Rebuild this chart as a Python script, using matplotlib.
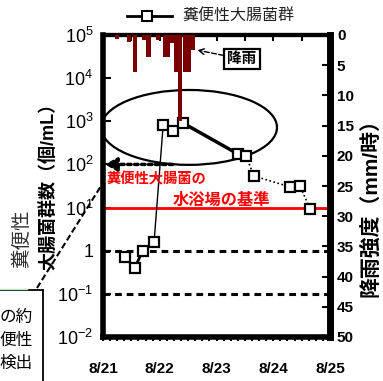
import numpy as np
import matplotlib.pyplot as plt
from matplotlib.patches import Ellipse, Rectangle
from matplotlib.lines import Line2D
from matplotlib.ticker import NullLocator, FixedLocator

plt.rcParams['font.family'] = ['Liberation Sans', 'Noto Sans CJK JP']
plt.rcParams['mathtext.fontset'] = 'custom'
plt.rcParams['mathtext.rm'] = 'Liberation Sans'

# 糞便性大腸菌群 (個/mL)、x は8月の日(小数部は時刻)
coli_day = [21.39, 21.56, 21.70, 21.90, 22.06, 22.23, 22.41,
            23.38, 23.52, 23.66, 24.30, 24.47, 24.65]
coli_val = [0.71, 0.40, 1.0, 1.6, 810, 590, 910,
            174, 157, 54, 30, 32, 9.3]

# 降雨強度 (mm/時)
rain_day = [21.25, 21.46, 21.56, 21.72, 21.80, 21.97, 22.09,
            22.15, 22.22, 22.29, 22.36, 22.44, 22.51, 22.58]
rain_mm = [0.6, 1.1, 6.1, 0.8, 3.6, 0.8, 3.6,
           3.6, 1.3, 6.1, 14.2, 6.1, 6.1, 2.5]

date_ticks = [21, 22, 23, 24, 25]
date_labels = ['8/21', '8/22', '8/23', '8/24', '8/25']
log_ticks = [1e-2, 1e-1, 1, 1e1, 1e2, 1e3, 1e4, 1e5]
log_labels = ['10$^{-2}$', '10$^{-1}$', '1', '10$^{1}$',
              '10$^{2}$', '10$^{3}$', '10$^{4}$', '10$^{5}$']
rain_ticks = list(range(0, 55, 5))
standard = 10  # 水浴場の基準

W, H = 383, 381
fig = plt.figure(figsize=(W / 100, H / 100), dpi=100)


def fx(px):
    return px / W


def fy(py):
    return 1 - py / H


ax = fig.add_axes([fx(103), fy(337), 227 / W, 302 / H])
ax.set_xlim(21, 25)
ax.set_yscale('log')
ax.set_ylim(1e-2, 1e5)

# 基準線と補助線
ax.axhline(standard, color='red', lw=2)
for v in (1, 0.1):
    ax.axhline(v, color='black', lw=2.2, ls=(0, (2.2, 1.6)))

# 大腸菌群の推移
ax.plot(coli_day[0:4], coli_val[0:4], color='black', lw=2)
ax.plot(coli_day[3:7], coli_val[3:7], color='black', lw=1)
ax.plot(coli_day[6:8], coli_val[6:8], color='black', lw=2.5)
ax.plot(coli_day[7:], coli_val[7:], color='black', lw=1.2, ls=(0, (1, 1.5)))
ax.plot(coli_day, coli_val, ls='none', marker='s', ms=7, mfc='white',
        mec='black', mew=1.6, zorder=5)

ax.add_patch(Ellipse((0.379, 0.694), 0.775, 0.248, transform=ax.transAxes,
                     fill=False, ec='black', lw=1.6))

ax.annotate('', xy=(21.035, 100), xytext=(22.23, 100),
            arrowprops=dict(arrowstyle='-|>,head_length=0.7,head_width=0.4',
                            color='black', lw=2.5, ls=(0, (1, 1)),
                            shrinkA=0, shrinkB=0))
ax.text(21.07, 46, '糞便性大腸菌の', color='red', fontsize=10.3,
        fontweight='bold', ha='left', va='center')
ax.text(22.22, 15, '水浴場の基準', color='red', fontsize=11.7,
        fontweight='bold', ha='left', va='center')

ax.set_yticks(log_ticks, log_labels)
ax.yaxis.set_minor_locator(NullLocator())
ax.tick_params(axis='y', direction='in', length=6, width=1.5,
               labelsize=13, pad=7)
ax.set_xticks(date_ticks, date_labels, fontweight='bold')
ax.xaxis.set_minor_locator(FixedLocator(np.arange(21, 25.01, 0.125)))
ax.tick_params(axis='x', which='both', direction='out', length=3,
               width=1.5, labelsize=11, pad=15)
ax.spines['left'].set_linewidth(4)
ax.spines['bottom'].set_linewidth(4)
ax.spines['top'].set_linewidth(3)
ax.spines['right'].set_visible(False)

top = ax.secondary_xaxis('top')
top.set_xticks(np.arange(21.5, 25, 0.5), labels=[])
top.tick_params(direction='in', length=4, width=1.5)
top.spines['top'].set_linewidth(3)

# 降雨強度 (右軸、上から下向き)
ax2 = ax.twinx()
ax2.set_ylim(50, 0)
ax2.bar(rain_day, rain_mm, width=0.075, color='#7a0000')
ax2.set_yticks(rain_ticks, [str(t) for t in rain_ticks], fontweight='bold')
ax2.tick_params(axis='y', direction='in', length=6, width=1.5,
                labelsize=11, pad=5)
for s in ('left', 'top', 'bottom'):
    ax2.spines[s].set_visible(False)
ax2.spines['right'].set_linewidth(5)
ax2.annotate('降雨', xy=(22.66, 2.5), xytext=(23.45, 4.0),
             fontsize=10.5, fontweight='bold', ha='center', va='center',
             bbox=dict(boxstyle='square,pad=0.2', fc='white', ec='black', lw=1.6),
             arrowprops=dict(arrowstyle='->', ls='--', lw=1, color='black',
                             shrinkA=0, shrinkB=0))

# 凡例
fig.add_artist(Line2D([fx(127), fx(146.5), fx(172)], [fy(16)] * 3, color='black',
                      lw=2, marker='s', markevery=[1], ms=7, mfc='white',
                      mec='black', mew=1.5))
fig.text(fx(182), fy(16), '糞便性大腸菌群', fontsize=11.5, color='#222222',
         ha='left', va='center')

# 軸ラベル
fig.text(fx(49), fy(182), '大腸菌群数（個/mL）', rotation=90, fontsize=13,
         fontweight='bold', ha='center', va='center')
fig.text(fx(370), fy(203), '降雨強度（mm/時）', rotation=90, fontsize=15,
         fontweight='bold', ha='center', va='center')

# 左側の注記
fig.text(fx(22), fy(239), '糞便性', rotation=90, fontsize=14, color='#333333',
         ha='center', va='center')
fig.add_artist(Line2D([fx(37), fx(101)], [fy(288), fy(186)], color='black',
                      lw=1.5, ls=(0, (3, 1.5))))
fig.add_artist(Line2D([0, fx(27)], [fy(288.5)] * 2, color='#b9e8b9', lw=1))
fig.add_artist(Rectangle((fx(-5), fy(395)), fx(48), 105 / H, fill=True,
                         fc='white', ec='black', lw=1.3,
                         transform=fig.transFigure))
for txt, py in (('の約', 317), ('便性', 340), ('検出', 363)):
    fig.text(fx(33), fy(py), txt, fontsize=12, ha='right', va='center')

fig.savefig('out.png', dpi=100)
